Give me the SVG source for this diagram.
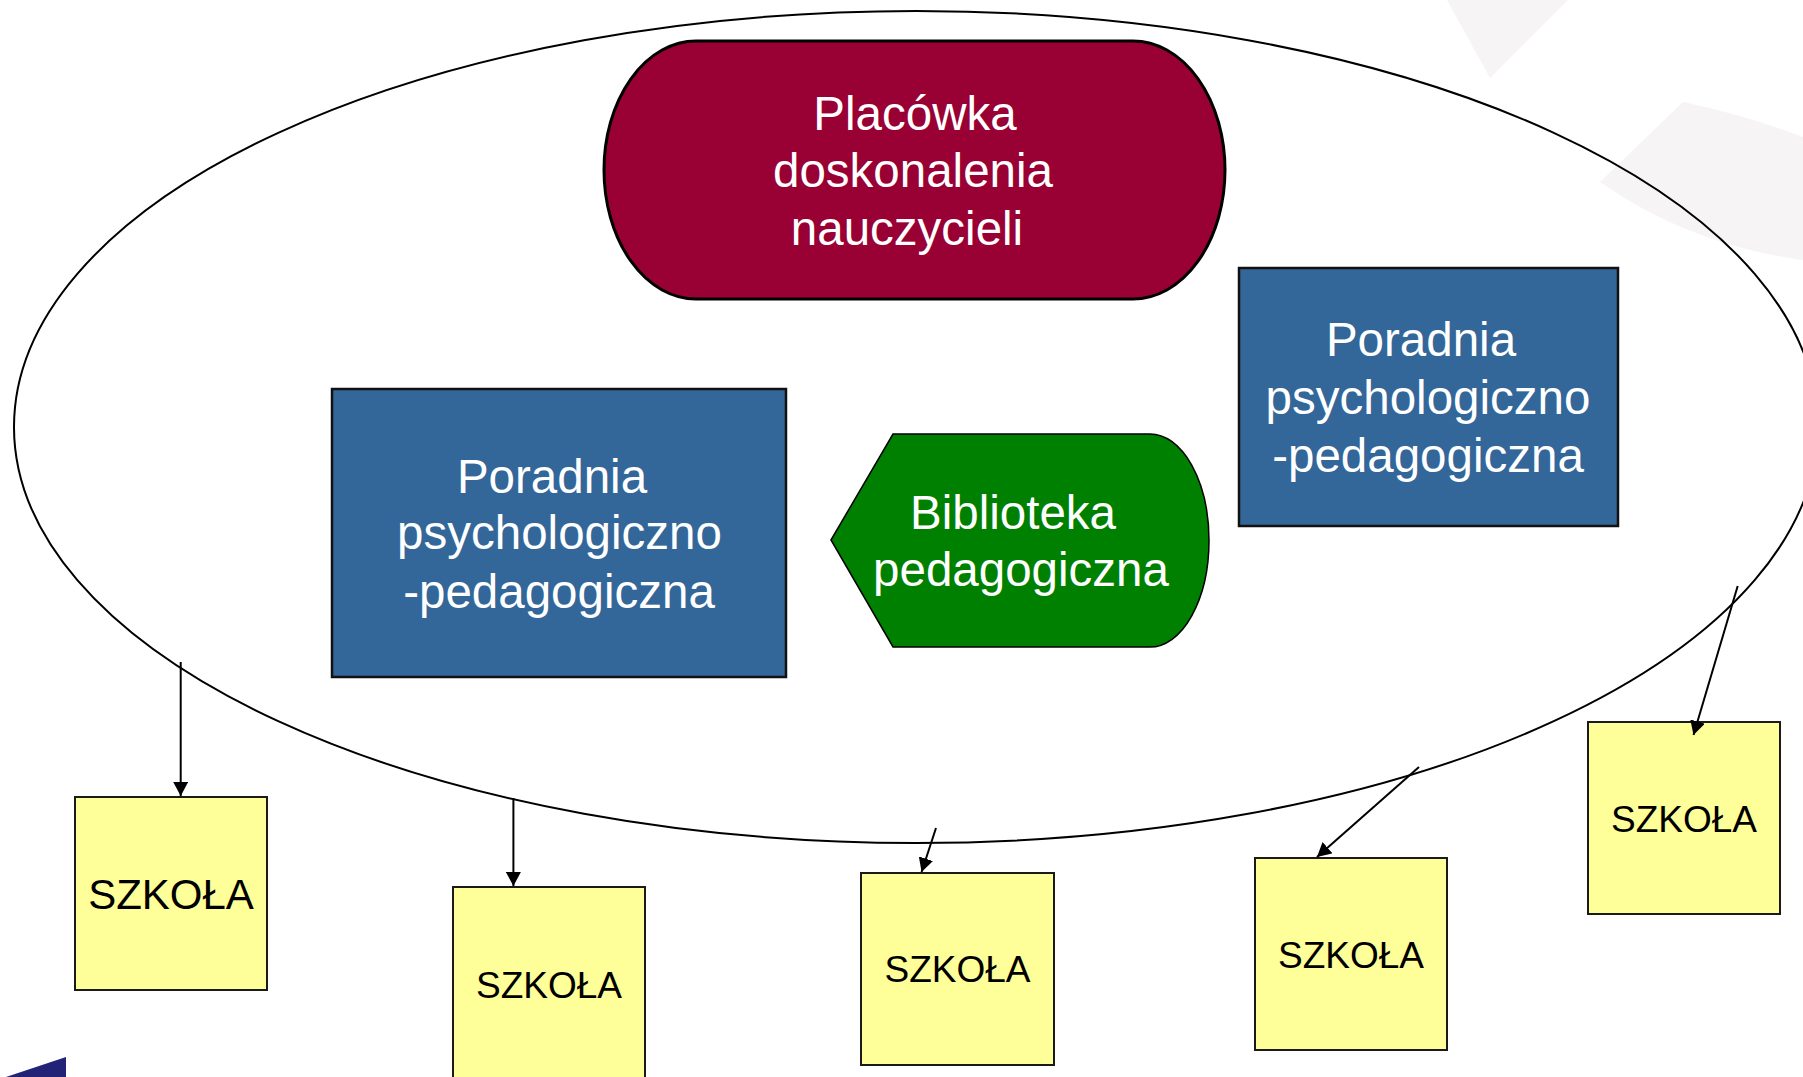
<svg xmlns="http://www.w3.org/2000/svg" width="1803" height="1077" viewBox="0 0 1803 1077">
<style>
  .lbl { font-family: "Liberation Sans", Arial, sans-serif; text-anchor: middle; }
  .white { fill: #ffffff; font-size: 47.5px; }
  .blk { fill: #000000; }
  .school { fill: #ffff99; stroke: #1a1a1a; stroke-width: 2; }
  .blue { fill: #336699; stroke: #111111; stroke-width: 2.5; }
  .conn { stroke: #000000; stroke-width: 2; fill: none; marker-end: url(#arrow); }
  .wm { fill: #f6f4f4; }
</style>
<defs>
  <marker id="arrow" markerUnits="userSpaceOnUse" markerWidth="15" markerHeight="15" refX="14" refY="7.5" orient="auto">
    <path d="M0,0 L14,7.5 L0,15 z" fill="#000000"/>
  </marker>
</defs>
<rect width="1803" height="1077" fill="#ffffff"/>
<g id="background">
  <path class="wm" d="M1447,0 L1490,78 L1568,0 z"/>
  <path class="wm" d="M1600,182 L1683,102 Q1745,115 1803,137 L1803,260 Q1690,245 1600,182 z"/>
  <path d="M6,1077 L66,1057 L66,1077 z" fill="#222277"/>
</g>
<g id="ellipse">
  <ellipse cx="916" cy="427" rx="902" ry="416" fill="none" stroke="#000000" stroke-width="2"/>
</g>
<g id="placowka">
  <rect x="604" y="41" width="621" height="258" rx="92" ry="129" fill="#990033" stroke="#000000" stroke-width="3"/>
  <text class="lbl white" x="915" y="130">Placówka</text>
  <text class="lbl white" x="913" y="187">doskonalenia</text>
  <text class="lbl white" x="907" y="245">nauczycieli</text>
</g>
<g id="poradnia-right">
  <rect class="blue" x="1239" y="268" width="379" height="258"/>
  <text class="lbl white" x="1421" y="356">Poradnia</text>
  <text class="lbl white" x="1428" y="414">psychologiczno</text>
  <text class="lbl white" x="1428" y="472">-pedagogiczna</text>
</g>
<g id="poradnia-left">
  <rect class="blue" x="332" y="389" width="454" height="288"/>
  <text class="lbl white" x="552" y="493">Poradnia</text>
  <text class="lbl white" x="559.5" y="549">psychologiczno</text>
  <text class="lbl white" x="559" y="607.5">-pedagogiczna</text>
</g>
<g id="biblioteka">
  <path d="M831,540 L893,434 L1150,434 A59,106.5 0 0 1 1150,647 L893,647 z" fill="#008000" stroke="#000000" stroke-width="1.5"/>
  <text class="lbl white" x="1013" y="529">Biblioteka</text>
  <text class="lbl white" x="1021" y="586">pedagogiczna</text>
</g>
<g id="szkola1">
  <rect class="school" x="75" y="797" width="192" height="193"/>
  <text class="lbl blk" x="171" y="909" font-size="42">SZKOŁA</text>
</g>
<g id="szkola2">
  <rect class="school" x="453" y="887" width="192" height="200"/>
  <text class="lbl blk" x="549" y="998" font-size="37">SZKOŁA</text>
</g>
<g id="szkola3">
  <rect class="school" x="861" y="873" width="193" height="192"/>
  <text class="lbl blk" x="957.5" y="982" font-size="37">SZKOŁA</text>
</g>
<g id="szkola4">
  <rect class="school" x="1255" y="858" width="192" height="192"/>
  <text class="lbl blk" x="1351" y="968" font-size="37">SZKOŁA</text>
</g>
<g id="szkola5">
  <rect class="school" x="1588" y="722" width="192" height="192"/>
  <text class="lbl blk" x="1684" y="832" font-size="37">SZKOŁA</text>
</g>
<g id="connectors">
  <line class="conn" x1="180.7" y1="662" x2="180.7" y2="796"/>
  <line class="conn" x1="513.4" y1="798" x2="513.4" y2="886"/>
  <line class="conn" x1="936" y1="828" x2="921.6" y2="872"/>
  <line class="conn" x1="1419" y1="767" x2="1317" y2="857"/>
  <line class="conn" x1="1737.7" y1="586" x2="1693.5" y2="735"/>
</g>
</svg>
